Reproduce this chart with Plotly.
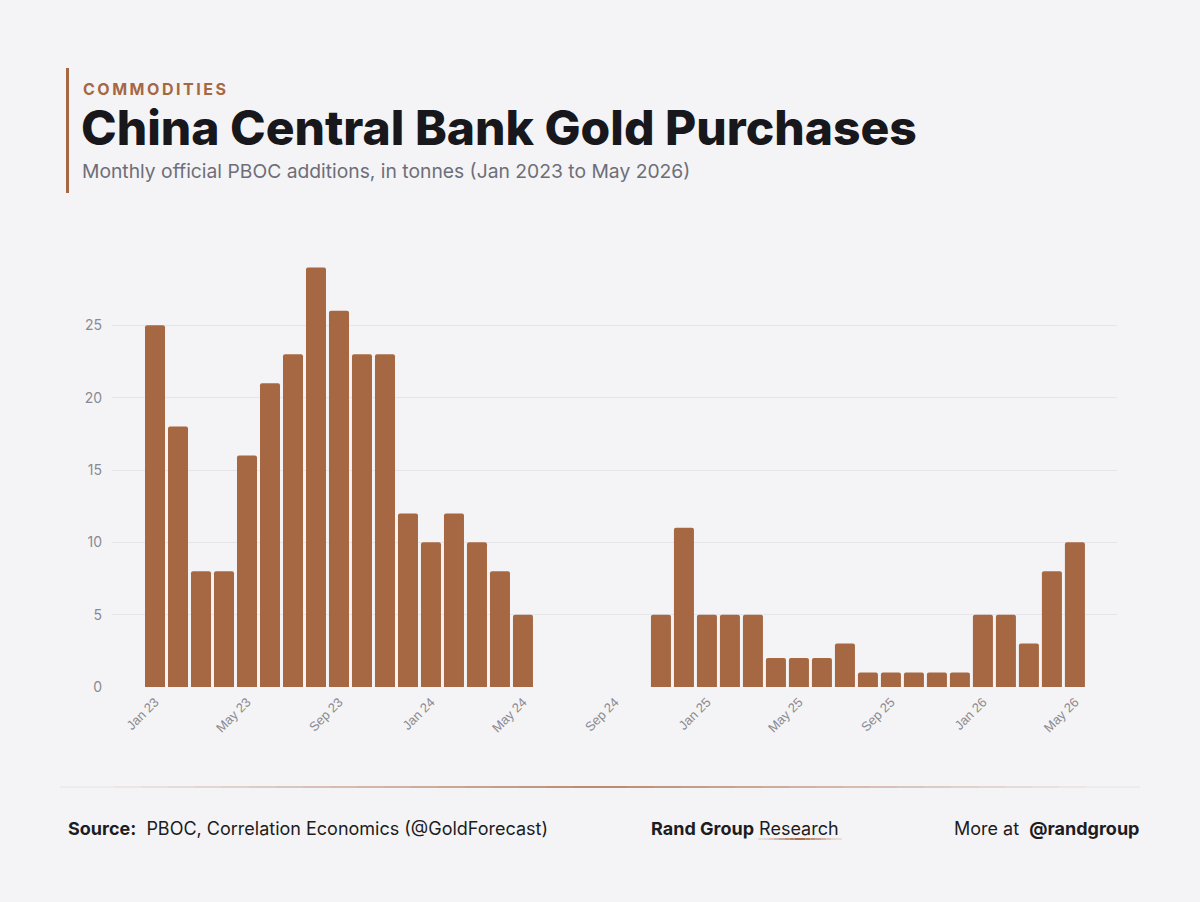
import plotly.graph_objects as go

months = ["Jan", "Feb", "Mar", "Apr", "May", "Jun", "Jul", "Aug", "Sep", "Oct", "Nov", "Dec"]
labels = [f"{m} {y}" for y in ["23", "24", "25"] for m in months] + [f"{m} 26" for m in months[:5]]

values_2023 = [25, 18, 8, 8, 16, 21, 23, 29, 26, 23, 23, 12]
values_2024 = [10, 12, 10, 8, 5, 0, 0, 0, 0, 0, 5, 11]
values_2025 = [5, 5, 5, 2, 2, 2, 3, 1, 1, 1, 1, 1]
values_2026 = [5, 5, 3, 8, 10]
values = values_2023 + values_2024 + values_2025 + values_2026

tick_labels = labels[::4]
y_ticks = [0, 5, 10, 15, 20, 25]

BG = "#F4F4F6"
BROWN = "#A66842"
FONT = "Inter"

fig = go.Figure()
fig.add_trace(go.Bar(
    x=labels, y=values,
    marker=dict(color=BROWN, cornerradius=2, line=dict(width=0)),
    hovertemplate="%{x}: %{y} t<extra></extra>",
))

fig.update_layout(
    width=1200, height=902,
    paper_bgcolor=BG, plot_bgcolor=BG,
    margin=dict(l=112, r=83, t=253, b=215),
    bargap=0.13,
    showlegend=False,
    font=dict(family=FONT, color="#8a8a92"),
    xaxis=dict(
        type="category",
        range=[-1.87, 41.83],
        tickmode="array", tickvals=tick_labels, ticktext=tick_labels,
        tickangle=-45, tickfont=dict(family="Liberation Sans", size=13, color="#8a8a92"),
        ticklabelstandoff=4,
        showgrid=False, zeroline=False, showline=False, ticks="",
    ),
    yaxis=dict(
        range=[0, 30],
        tickvals=y_ticks,
        tickfont=dict(size=14, color="#8a8a92"),
        showgrid=True, gridcolor="#E5E5EA", gridwidth=1,
        zeroline=False, showline=False, ticks="",
        ticklabelstandoff=9,
    ),
)


def px_x(x):
    return (x - 112) / 1005


def px_y(y):
    return (902 - 215 - y) / 434


# header accent bar
fig.add_shape(type="rect", xref="paper", yref="paper",
              x0=px_x(66), x1=px_x(69), y0=px_y(193), y1=px_y(68),
              fillcolor=BROWN, line=dict(width=0), layer="above")

thin = "\u2009"
fig.add_annotation(text="<b>" + thin.join("COMMODITIES") + "</b>", xref="paper", yref="paper",
                   x=px_x(81), y=px_y(89), xanchor="left", yanchor="middle",
                   showarrow=False, font=dict(family=FONT, size=16, color=BROWN))
fig.add_annotation(text="China Central Bank Gold Purchases", xref="paper", yref="paper",
                   x=px_x(79), y=px_y(127), xanchor="left", yanchor="middle",
                   showarrow=False, font=dict(family=FONT, size=48, color="#17171c", weight=800))
fig.add_annotation(text="Monthly official PBOC additions, in tonnes (Jan 2023 to May 2026)",
                   xref="paper", yref="paper",
                   x=px_x(80), y=px_y(171), xanchor="left", yanchor="middle",
                   showarrow=False, font=dict(family=FONT, size=19.3, color="#6e6e78"))

# footer gradient line
n = 40
x_start, x_end = 60, 1140
for i in range(n):
    t = (i + 0.5) / n
    a = max(0.08, 1 - abs(t - 0.5) * 2)
    r = int(244 + (166 - 244) * a)
    g = int(244 + (104 - 244) * a)
    b = int(246 + (66 - 246) * a)
    fig.add_shape(type="line", xref="paper", yref="paper",
                  x0=px_x(x_start + (x_end - x_start) * i / n),
                  x1=px_x(x_start + (x_end - x_start) * (i + 1) / n),
                  y0=px_y(787), y1=px_y(787),
                  line=dict(color=f"rgb({r},{g},{b})", width=1.5))

# underline under Research
m = 16
for i in range(m):
    t = (i + 0.5) / m
    a = max(0.15, 1 - abs(t - 0.5) * 2)
    r = int(244 + (166 - 244) * a)
    g = int(244 + (104 - 244) * a)
    b = int(246 + (66 - 246) * a)
    fig.add_shape(type="line", xref="paper", yref="paper",
                  x0=px_x(758 + 84 * i / m), x1=px_x(758 + 84 * (i + 1) / m),
                  y0=px_y(839), y1=px_y(839),
                  line=dict(color=f"rgb({r},{g},{b})", width=2))

foot = dict(family=FONT, size=18, color="#1c1c22")
fig.add_annotation(text="<b>Source:</b>  PBOC, Correlation Economics (@GoldForecast)",
                   xref="paper", yref="paper", x=px_x(66), y=px_y(828),
                   xanchor="left", yanchor="middle", showarrow=False, font=foot)
fig.add_annotation(text="<b>Rand Group</b> Research",
                   xref="paper", yref="paper", x=px_x(745), y=px_y(828),
                   xanchor="center", yanchor="middle", showarrow=False, font=foot)
fig.add_annotation(text="More at  <b>@randgroup</b>",
                   xref="paper", yref="paper", x=px_x(1141), y=px_y(828),
                   xanchor="right", yanchor="middle", showarrow=False, font=foot)

fig.write_html("out.html")
